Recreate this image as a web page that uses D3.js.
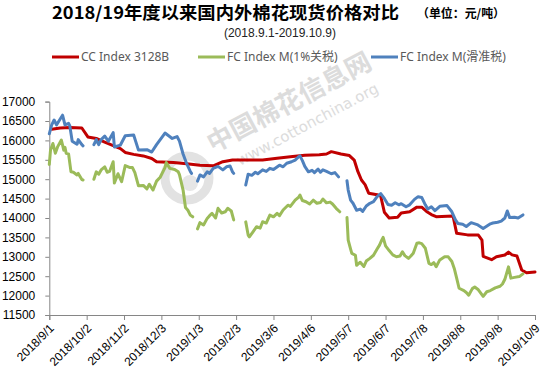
<!DOCTYPE html>
<html>
<head>
<meta charset="utf-8">
<script src="https://cdn.jsdelivr.net/npm/d3@7"></script>
<style>
  body { margin: 0; background: #fff; }
  svg { display: block; }
</style>
</head>
<body>
<svg id="chart" width="549" height="387"></svg>
<script>
// axis ticks, one every 31 days
const tickDates = ["2018-09-01", "2018-10-02", "2018-11-02", "2018-12-03", "2019-01-03", "2019-02-03",
    "2019-03-06", "2019-04-06", "2019-05-07", "2019-06-07", "2019-07-08", "2019-08-08",
    "2019-09-08", "2019-10-09"];
const yTicks = [11500, 12000, 12500, 13000, 13500, 14000, 14500, 15000, 15500, 16000, 16500, 17000];
const seriesNames = ["CC Index 3128B", "FC Index M(1%关税)", "FC Index M(滑准税)"];

// values, yuan/ton, null = no quote (holiday)
const ccIndex = [
    ["2018-09-03", 16290], ["2018-09-10", 16320], ["2018-09-18", 16330], ["2018-09-28", 16320],
    ["2018-10-03", 16090], ["2018-10-10", 16050], ["2018-10-16", 15970], ["2018-10-23", 15880],
    ["2018-10-30", 15790], ["2018-11-03", 15690], ["2018-11-10", 15640], ["2018-11-18", 15600],
    ["2018-11-25", 15535], ["2018-11-29", 15450], ["2018-12-13", 15430], ["2018-12-24", 15400],
    ["2019-01-04", 15360], ["2019-01-15", 15345], ["2019-01-23", 15450], ["2019-01-31", 15494],
    ["2019-02-25", 15494], ["2019-03-09", 15540], ["2019-03-20", 15580], ["2019-04-01", 15620],
    ["2019-04-13", 15630], ["2019-04-19", 15650], ["2019-04-23", 15710], ["2019-05-01", 15650],
    ["2019-05-08", 15610], ["2019-05-12", 15494], ["2019-05-15", 15200], ["2019-05-18", 14980],
    ["2019-05-21", 14860], ["2019-05-24", 14640], ["2019-05-31", 14600], ["2019-06-03", 14560],
    ["2019-06-06", 14150], ["2019-06-10", 14000], ["2019-06-17", 14020], ["2019-06-20", 14130],
    ["2019-06-27", 14160], ["2019-07-03", 14280], ["2019-07-07", 14280], ["2019-07-11", 14170],
    ["2019-07-15", 14090], ["2019-07-19", 14035], ["2019-08-02", 14050], ["2019-08-05", 13605],
    ["2019-08-14", 13565], ["2019-08-23", 13560], ["2019-08-26", 13430], ["2019-08-27", 13010],
    ["2019-09-03", 12925], ["2019-09-07", 13000], ["2019-09-14", 13046], ["2019-09-17", 13120],
    ["2019-09-20", 13050], ["2019-09-24", 13020], ["2019-09-28", 12660], ["2019-10-02", 12590],
    ["2019-10-09", 12610]
];

const fcTariff1 = [
    ["2018-09-01", 15380], ["2018-09-02", 15750], ["2018-09-04", 15920], ["2018-09-06", 15670],
    ["2018-09-08", 15840], ["2018-09-11", 16010], ["2018-09-13", 15750], ["2018-09-14", 15820],
    ["2018-09-15", 15670], ["2018-09-17", 15650], ["2018-09-19", 15190], ["2018-09-21", 15180],
    ["2018-09-24", 15110], ["2018-09-25", 15150], ["2018-09-28", 14990], ["2018-09-29", 14980],
    ["2018-10-03", null],
    ["2018-10-08", 15000], ["2018-10-10", 15190], ["2018-10-12", 15130], ["2018-10-14", 15240],
    ["2018-10-17", 15320], ["2018-10-19", 15180], ["2018-10-21", 15200], ["2018-10-24", 15450],
    ["2018-10-25", 14900], ["2018-10-28", 15140], ["2018-10-31", 14935], ["2018-11-03", 15350],
    ["2018-11-07", 15300], ["2018-11-09", 15300], ["2018-11-11", 15170], ["2018-11-14", 14830],
    ["2018-11-18", 14840], ["2018-11-21", 14750], ["2018-11-23", 14870], ["2018-11-26", 14720],
    ["2018-11-29", 14950], ["2018-12-02", 15050], ["2018-12-06", 15300], ["2018-12-07", 15430],
    ["2018-12-10", 15280], ["2018-12-14", 15250], ["2018-12-17", 15190], ["2018-12-18", 15120],
    ["2018-12-21", 14720], ["2018-12-23", 14270], ["2018-12-25", 14200], ["2018-12-27", 14075],
    ["2018-12-29", 14030],
    ["2018-12-31", null],
    ["2019-01-02", 13720], ["2019-01-04", 13880], ["2019-01-07", 13820], ["2019-01-10", 13990],
    ["2019-01-12", 14060], ["2019-01-14", 14120], ["2019-01-17", 14000], ["2019-01-19", 14250],
    ["2019-01-22", 14130], ["2019-01-25", 14160], ["2019-01-27", 14250], ["2019-01-30", 14180],
    ["2019-02-01", 13950],
    ["2019-02-05", null],
    ["2019-02-11", 13900], ["2019-02-13", 13560], ["2019-02-14", 13515], ["2019-02-17", 13645],
    ["2019-02-20", 13775], ["2019-02-23", 13740], ["2019-02-25", 13905], ["2019-02-28", 13870],
    ["2019-03-03", 14075], ["2019-03-06", 14030], ["2019-03-09", 14120], ["2019-03-11", 14060],
    ["2019-03-14", 14205], ["2019-03-18", 14330], ["2019-03-20", 14300], ["2019-03-24", 14460],
    ["2019-03-27", 14540], ["2019-03-28", 14590], ["2019-03-30", 14450], ["2019-04-02", 14420],
    ["2019-04-05", 14360], ["2019-04-08", 14460], ["2019-04-11", 14380], ["2019-04-14", 14400],
    ["2019-04-16", 14490], ["2019-04-19", 14390], ["2019-04-22", 14410], ["2019-04-24", 14360],
    ["2019-04-27", 14250], ["2019-04-30", 14160],
    ["2019-05-03", null],
    ["2019-05-06", 14010], ["2019-05-07", 13430], ["2019-05-09", 13200], ["2019-05-10", 13090],
    ["2019-05-13", 13040], ["2019-05-14", 12780], ["2019-05-17", 12860], ["2019-05-20", 12750],
    ["2019-05-22", 12890], ["2019-05-25", 12960], ["2019-05-28", 13040], ["2019-05-31", 13200],
    ["2019-06-02", 13300], ["2019-06-04", 13440], ["2019-06-05", 13500], ["2019-06-07", 13280],
    ["2019-06-10", 13160], ["2019-06-13", 13050], ["2019-06-16", 13000], ["2019-06-19", 13020],
    ["2019-06-21", 13130], ["2019-06-23", 13030], ["2019-06-26", 12960], ["2019-06-28", 13020],
    ["2019-06-30", 13090], ["2019-07-03", 13350], ["2019-07-05", 13360], ["2019-07-07", 13340],
    ["2019-07-10", 13220], ["2019-07-13", 12830], ["2019-07-15", 12800], ["2019-07-17", 12850],
    ["2019-07-19", 12745], ["2019-07-22", 12920], ["2019-07-26", 13000], ["2019-07-29", 13000],
    ["2019-08-01", 12880], ["2019-08-03", 12700], ["2019-08-05", 12450], ["2019-08-07", 12190],
    ["2019-08-11", 12130], ["2019-08-13", 12080], ["2019-08-15", 12010], ["2019-08-18", 12180],
    ["2019-08-20", 12220], ["2019-08-23", 12150], ["2019-08-27", 11980], ["2019-08-30", 12100],
    ["2019-09-02", 12130], ["2019-09-06", 12200], ["2019-09-10", 12240], ["2019-09-12", 12300],
    ["2019-09-14", 12420], ["2019-09-17", 12740], ["2019-09-19", 12450], ["2019-09-22", 12470],
    ["2019-09-26", 12490], ["2019-09-29", 12560]
];

const fcSliding = [
    ["2018-09-01", 16170], ["2018-09-03", 16400], ["2018-09-05", 16525], ["2018-09-07", 16400],
    ["2018-09-09", 16500], ["2018-09-12", 16650], ["2018-09-14", 16400], ["2018-09-17", 16440],
    ["2018-09-18", 16380], ["2018-09-20", 15980], ["2018-09-24", 15900], ["2018-09-25", 16020],
    ["2018-09-28", 15890], ["2018-09-29", 15860],
    ["2018-10-03", null],
    ["2018-10-08", 15890], ["2018-10-10", 16020], ["2018-10-12", 15890], ["2018-10-14", 16020],
    ["2018-10-17", 16110], ["2018-10-20", 15980], ["2018-10-24", 16200], ["2018-10-25", 15830],
    ["2018-10-30", 15880], ["2018-11-03", 16120], ["2018-11-10", 16140], ["2018-11-14", 15750],
    ["2018-11-21", 15760], ["2018-11-25", 15700], ["2018-11-29", 15890], ["2018-12-06", 16190],
    ["2018-12-12", 16050], ["2018-12-16", 16100], ["2018-12-18", 15980], ["2018-12-21", 15650],
    ["2018-12-24", 15400], ["2018-12-27", 15200], ["2018-12-28", 15150],
    ["2018-12-31", null],
    ["2019-01-02", 14950], ["2019-01-04", 15110], ["2019-01-07", 15060], ["2019-01-10", 15190],
    ["2019-01-12", 15150], ["2019-01-15", 15280], ["2019-01-19", 15330], ["2019-01-23", 15240],
    ["2019-01-26", 15320], ["2019-01-29", 15340], ["2019-01-31", 15190], ["2019-02-01", 15150],
    ["2019-02-05", null],
    ["2019-02-11", 14850], ["2019-02-13", 15130], ["2019-02-16", 15100], ["2019-02-19", 15180],
    ["2019-02-21", 15140], ["2019-02-25", 15240], ["2019-02-28", 15200], ["2019-03-03", 15280],
    ["2019-03-06", 15250], ["2019-03-11", 15360], ["2019-03-14", 15320], ["2019-03-17", 15410],
    ["2019-03-21", 15450], ["2019-03-24", 15494], ["2019-03-27", 15580], ["2019-03-28", 15600],
    ["2019-03-30", 15480], ["2019-04-01", 15330], ["2019-04-04", 15190], ["2019-04-07", 15230],
    ["2019-04-09", 15170], ["2019-04-12", 15260], ["2019-04-14", 15180], ["2019-04-16", 15240],
    ["2019-04-19", 15200], ["2019-04-23", 15140], ["2019-04-26", 15170], ["2019-04-29", 15060],
    ["2019-05-03", null],
    ["2019-05-06", 14960], ["2019-05-07", 14720], ["2019-05-09", 14460], ["2019-05-11", 14380],
    ["2019-05-14", 14200], ["2019-05-17", 14230], ["2019-05-19", 14170], ["2019-05-22", 14310],
    ["2019-05-25", 14380], ["2019-05-28", 14420], ["2019-05-31", 14550], ["2019-06-03", 14630],
    ["2019-06-06", 14505], ["2019-06-09", 14350], ["2019-06-12", 14330], ["2019-06-15", 14395],
    ["2019-06-18", 14340], ["2019-06-20", 14370], ["2019-06-24", 14290], ["2019-06-27", 14340],
    ["2019-07-01", 14480], ["2019-07-04", 14550], ["2019-07-07", 14530], ["2019-07-10", 14340],
    ["2019-07-12", 14230], ["2019-07-15", 14290], ["2019-07-18", 14190], ["2019-07-22", 14300],
    ["2019-07-28", 14320], ["2019-08-01", 14160], ["2019-08-04", 13950], ["2019-08-06", 13860],
    ["2019-08-10", 13840], ["2019-08-13", 13780], ["2019-08-17", 13880], ["2019-08-22", 13830],
    ["2019-08-27", 13730], ["2019-09-02", 13850], ["2019-09-04", 13870], ["2019-09-08", 13890],
    ["2019-09-11", 13920], ["2019-09-14", 14000], ["2019-09-16", 14180], ["2019-09-18", 14010],
    ["2019-09-22", 14020], ["2019-09-25", 14000], ["2019-09-29", 14080]
];

const colors = ["#C00000", "#9BBB59", "#4F81BD"];
const parse = d3.utcParse("%Y-%m-%d");
const fmt = d3.utcFormat("%Y/%-m/%-d");

const svg = d3.select("#chart");
const plotLeft = 49.3, plotRight = 535, plotTop = 101.6, plotBottom = 315;

const x = d3.scaleUtc()
    .domain([parse(tickDates[0]), parse(tickDates[tickDates.length - 1])])
    .range([plotLeft, plotRight]);
const y = d3.scaleLinear().domain([11500, 17000]).range([plotBottom, plotTop]);

// watermark, behind everything
const wm = svg.append("g").attr("fill", "#dcdcdc");
wm.append("circle").attr("cx", 187).attr("cy", 178).attr("r", 22)
    .attr("fill", "none").attr("stroke", "#e2e2e2").attr("stroke-width", 9);
wm.append("circle").attr("cx", 190).attr("cy", 183).attr("r", 8).attr("fill", "#e6e6e6");
wm.append("text")
    .attr("transform", "translate(213,153) rotate(-28)")
    .style("font-family", "'Noto Sans CJK SC'")
    .style("font-weight", "bold")
    .style("font-size", "26px")
    .text("中国棉花信息网");
wm.append("text")
    .attr("transform", "translate(240,166) rotate(-28)")
    .style("font-family", "'DejaVu Sans'")
    .style("font-size", "15px")
    .text("www.cottonchina.org");

// titles
svg.append("text")
    .attr("x", 52).attr("y", 19)
    .attr("textLength", 347).attr("lengthAdjust", "spacingAndGlyphs")
    .style("font-family", "'Noto Sans CJK SC'")
    .style("font-weight", "bold")
    .style("font-size", "17px")
    .attr("fill", "#000")
    .text("2018/19年度以来国内外棉花现货价格对比");
svg.append("text")
    .attr("x", 417).attr("y", 18)
    .attr("textLength", 88).attr("lengthAdjust", "spacingAndGlyphs")
    .style("font-family", "'Noto Sans CJK SC'")
    .style("font-weight", "bold")
    .style("font-size", "12px")
    .attr("fill", "#000")
    .text("（单位：元/吨）");
svg.append("text")
    .attr("x", 280).attr("y", 37)
    .attr("text-anchor", "middle")
    .style("font-family", "'Liberation Sans'")
    .style("font-size", "12px")
    .attr("fill", "#222")
    .text("(2018.9.1-2019.10.9)");

// legend
const legendX = [52, 198, 371];
const lg = svg.append("g").selectAll("g").data(seriesNames).join("g")
    .attr("transform", (d, i) => `translate(${legendX[i]},57)`);
lg.append("line").attr("x1", 0).attr("x2", 27)
    .attr("stroke", (d, i) => colors[i]).attr("stroke-width", 3);
lg.append("text").attr("x", 29).attr("dy", "0.35em")
    .style("font-family", "'Noto Sans', 'Noto Sans CJK SC'")
    .style("font-size", "12px")
    .attr("fill", "#595959")
    .text(d => d);

// y axis
const yAxis = svg.append("g")
    .attr("transform", `translate(${plotLeft},0)`)
    .call(d3.axisLeft(y).tickValues(yTicks).tickSize(4).tickPadding(10).tickFormat(d3.format("d")));
yAxis.select(".domain").attr("stroke", "#868686");
yAxis.selectAll(".tick line").attr("stroke", "#868686");
yAxis.selectAll(".tick text")
    .style("font-family", "'Liberation Sans'")
    .style("font-size", "12px")
    .attr("fill", "#000");

// x axis
const xAxis = svg.append("g")
    .attr("transform", `translate(0,${plotBottom})`)
    .call(d3.axisBottom(x).tickValues(tickDates.map(parse)).tickSize(5).tickFormat(fmt));
xAxis.select(".domain").attr("stroke", "#868686");
xAxis.selectAll(".tick line").attr("stroke", "#868686");
xAxis.selectAll(".tick text")
    .attr("y", 0).attr("dy", 0)
    .attr("text-anchor", "end")
    .attr("transform", "translate(5,14) rotate(-45)")
    .style("font-family", "'Liberation Sans'")
    .style("font-size", "12px")
    .attr("fill", "#000");

// series
const line = d3.line()
    .defined(d => d[1] !== null)
    .x(d => x(parse(d[0])))
    .y(d => y(d[1]));

[ccIndex, fcTariff1, fcSliding].forEach((s, i) => {
    svg.append("path")
        .datum(s)
        .attr("fill", "none")
        .attr("stroke", colors[i])
        .attr("stroke-width", 3)
        .attr("stroke-linejoin", "round")
        .attr("stroke-linecap", "round")
        .attr("d", line);
});
</script>
</body>
</html>
